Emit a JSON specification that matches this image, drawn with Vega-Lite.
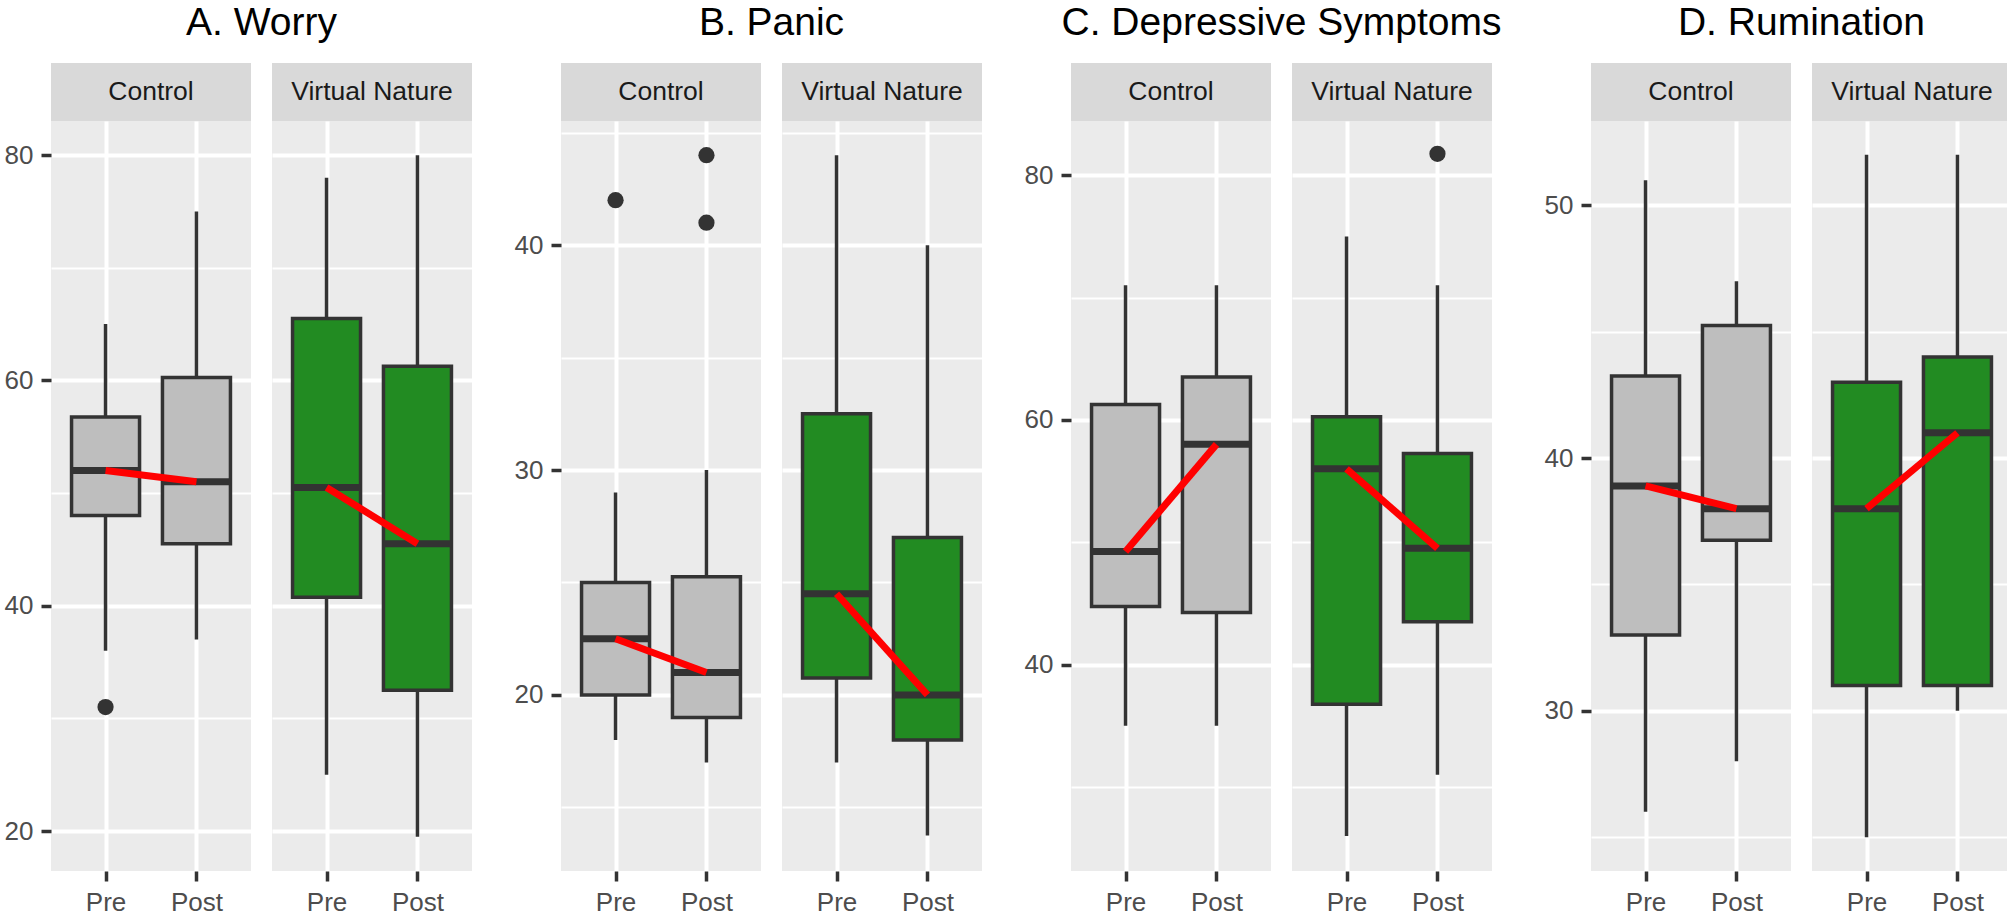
{
  "$schema": "https://vega.github.io/schema/vega-lite/v6.json",
  "background": "white",
  "padding": {"left": 3, "top": 4, "right": 0, "bottom": 0},
  "config": {
    "font": "Liberation Sans",
    "view": {"stroke": null, "fill": "#EBEBEB"},
    "concat": {"spacing": 0}
  },
  "datasets": {
    "boxes": [
      {"panel": "A", "group": "Control", "time": "Pre", "lo": 36, "q1": 48, "med": 52, "q3": 56.75, "hi": 65},
      {"panel": "A", "group": "Control", "time": "Post", "lo": 37, "q1": 45.5, "med": 51, "q3": 60.25, "hi": 75},
      {"panel": "A", "group": "Virtual Nature", "time": "Pre", "lo": 25, "q1": 40.75, "med": 50.5, "q3": 65.5, "hi": 78},
      {"panel": "A", "group": "Virtual Nature", "time": "Post", "lo": 19.5, "q1": 32.5, "med": 45.5, "q3": 61.25, "hi": 80},
      {"panel": "B", "group": "Control", "time": "Pre", "lo": 18, "q1": 20, "med": 22.5, "q3": 25, "hi": 29},
      {"panel": "B", "group": "Control", "time": "Post", "lo": 17, "q1": 19, "med": 21, "q3": 25.25, "hi": 30},
      {"panel": "B", "group": "Virtual Nature", "time": "Pre", "lo": 17, "q1": 20.75, "med": 24.5, "q3": 32.5, "hi": 44},
      {"panel": "B", "group": "Virtual Nature", "time": "Post", "lo": 13.75, "q1": 18, "med": 20, "q3": 27, "hi": 40},
      {"panel": "C", "group": "Control", "time": "Pre", "lo": 35, "q1": 44.75, "med": 49.25, "q3": 61.25, "hi": 71},
      {"panel": "C", "group": "Control", "time": "Post", "lo": 35, "q1": 44.25, "med": 58, "q3": 63.5, "hi": 71},
      {"panel": "C", "group": "Virtual Nature", "time": "Pre", "lo": 26, "q1": 36.75, "med": 56, "q3": 60.25, "hi": 75},
      {"panel": "C", "group": "Virtual Nature", "time": "Post", "lo": 31, "q1": 43.5, "med": 49.5, "q3": 57.25, "hi": 71},
      {"panel": "D", "group": "Control", "time": "Pre", "lo": 26, "q1": 33, "med": 38.9, "q3": 43.25, "hi": 51},
      {"panel": "D", "group": "Control", "time": "Post", "lo": 28, "q1": 36.75, "med": 38, "q3": 45.25, "hi": 47},
      {"panel": "D", "group": "Virtual Nature", "time": "Pre", "lo": 25, "q1": 31, "med": 38, "q3": 43, "hi": 52},
      {"panel": "D", "group": "Virtual Nature", "time": "Post", "lo": 30, "q1": 31, "med": 41, "q3": 44, "hi": 52}
    ],
    "outliers": [
      {"panel": "A", "group": "Control", "time": "Pre", "value": 31},
      {"panel": "B", "group": "Control", "time": "Pre", "value": 42},
      {"panel": "B", "group": "Control", "time": "Post", "value": 44},
      {"panel": "B", "group": "Control", "time": "Post", "value": 41},
      {"panel": "C", "group": "Virtual Nature", "time": "Post", "value": 81.75}
    ]
  },
  "spacing": 41,
  "hconcat": [
    {
      "title": {"text": "A. Worry", "anchor": "middle", "fontSize": 39, "fontWeight": "normal", "color": "#000000", "offset": 20, "dx": 24},
      "spacing": 21,
      "hconcat": [
        {"spacing": 0, "bounds": "flush", "vconcat": [
          {"width": 200, "height": 58, "view": {"fill": "#D9D9D9", "stroke": null}, "data": {"name": "boxes"},
           "transform": [{"filter": "datum.panel === 'A' && datum.group === 'Control' && datum.time === 'Pre'"}],
           "mark": {"type": "text", "fontSize": 26.5, "color": "#1A1A1A", "baseline": "middle"},
           "encoding": {"text": {"field": "group"}}},
          {"width": 200, "height": 750, "data": {"name": "boxes"},
           "transform": [{"filter": "datum.panel === 'A' && datum.group === 'Control'"}],
           "encoding": {"x": {"field": "time", "type": "nominal", "title": null, "scale": {"type": "point", "domain": ["Pre", "Post"], "padding": 0.6},
             "axis": {"labelAngle": 0, "domain": false, "tickSize": 10, "tickWidth": 3.5, "tickColor": "#333333", "labelFontSize": 26, "labelColor": "#4D4D4D", "labelPadding": 8, "grid": true, "gridColor": "#FFFFFF", "gridWidth": 4}}},
           "layer": [
             {"mark": {"type": "rule", "color": "#333333", "strokeWidth": 3.5},
              "encoding": {"y": {"field": "lo", "type": "quantitative", "title": null, "scale": {"domain": [16.45, 83.03], "nice": false, "zero": false},
                "axis": {"values": [20, 30, 40, 50, 60, 70, 80], "labelExpr": "datum.value % 20 === 0 ? datum.label : ''", "tickOpacity": {"condition": {"test": "datum.value % 20 === 0", "value": 1}, "value": 0}, "gridWidth": {"condition": {"test": "datum.value % 20 === 0", "value": 4}, "value": 2}, "gridColor": "#FFFFFF", "domain": false, "tickSize": 10, "tickWidth": 3.5, "tickColor": "#333333", "labelFontSize": 26, "labelColor": "#4D4D4D", "labelPadding": 8, "minExtent": 48, "maxExtent": 48}},
                "y2": {"field": "hi"}}},
             {"mark": {"type": "bar", "size": 68, "stroke": "#333333", "strokeWidth": 3.5},
              "encoding": {"y": {"field": "q1", "type": "quantitative", "title": null}, "y2": {"field": "q3"},
                "fill": {"field": "group", "type": "nominal", "scale": {"domain": ["Control", "Virtual Nature"], "range": ["#BEBEBE", "#228B22"]}, "legend": null}}},
             {"mark": {"type": "tick", "size": 68, "thickness": 7, "color": "#333333", "opacity": 1},
              "encoding": {"y": {"field": "med", "type": "quantitative", "title": null}}},
             {"mark": {"type": "line", "color": "#FF0000", "strokeWidth": 7},
              "encoding": {"y": {"field": "med", "type": "quantitative", "title": null}}},
             {"data": {"name": "outliers"}, "transform": [{"filter": "datum.panel === 'A' && datum.group === 'Control'"}],
              "mark": {"type": "point", "filled": true, "size": 263, "color": "#333333", "opacity": 1},
              "encoding": {"y": {"field": "value", "type": "quantitative", "title": null}}}
           ]}
        ]},
        {"spacing": 0, "bounds": "flush", "vconcat": [
          {"width": 200, "height": 58, "view": {"fill": "#D9D9D9", "stroke": null}, "data": {"name": "boxes"},
           "transform": [{"filter": "datum.panel === 'A' && datum.group === 'Virtual Nature' && datum.time === 'Pre'"}],
           "mark": {"type": "text", "fontSize": 26.5, "color": "#1A1A1A", "baseline": "middle"},
           "encoding": {"text": {"field": "group"}}},
          {"width": 200, "height": 750, "data": {"name": "boxes"},
           "transform": [{"filter": "datum.panel === 'A' && datum.group === 'Virtual Nature'"}],
           "encoding": {"x": {"field": "time", "type": "nominal", "title": null, "scale": {"type": "point", "domain": ["Pre", "Post"], "padding": 0.6},
             "axis": {"labelAngle": 0, "domain": false, "tickSize": 10, "tickWidth": 3.5, "tickColor": "#333333", "labelFontSize": 26, "labelColor": "#4D4D4D", "labelPadding": 8, "grid": true, "gridColor": "#FFFFFF", "gridWidth": 4}}},
           "layer": [
             {"mark": {"type": "rule", "color": "#333333", "strokeWidth": 3.5},
              "encoding": {"y": {"field": "lo", "type": "quantitative", "title": null, "scale": {"domain": [16.45, 83.03], "nice": false, "zero": false},
                "axis": {"values": [20, 30, 40, 50, 60, 70, 80], "labels": false, "ticks": false, "domain": false, "gridWidth": {"condition": {"test": "datum.value % 20 === 0", "value": 4}, "value": 2}, "gridColor": "#FFFFFF", "minExtent": 0, "maxExtent": 0}},
                "y2": {"field": "hi"}}},
             {"mark": {"type": "bar", "size": 68, "stroke": "#333333", "strokeWidth": 3.5},
              "encoding": {"y": {"field": "q1", "type": "quantitative", "title": null}, "y2": {"field": "q3"},
                "fill": {"field": "group", "type": "nominal", "scale": {"domain": ["Control", "Virtual Nature"], "range": ["#BEBEBE", "#228B22"]}, "legend": null}}},
             {"mark": {"type": "tick", "size": 68, "thickness": 7, "color": "#333333", "opacity": 1},
              "encoding": {"y": {"field": "med", "type": "quantitative", "title": null}}},
             {"mark": {"type": "line", "color": "#FF0000", "strokeWidth": 7},
              "encoding": {"y": {"field": "med", "type": "quantitative", "title": null}}}
           ]}
        ]}
      ]
    },
    {
      "title": {"text": "B. Panic", "anchor": "middle", "fontSize": 39, "fontWeight": "normal", "color": "#000000", "offset": 20, "dx": 24},
      "spacing": 21,
      "hconcat": [
        {"spacing": 0, "bounds": "flush", "vconcat": [
          {"width": 200, "height": 58, "view": {"fill": "#D9D9D9", "stroke": null}, "data": {"name": "boxes"},
           "transform": [{"filter": "datum.panel === 'B' && datum.group === 'Control' && datum.time === 'Pre'"}],
           "mark": {"type": "text", "fontSize": 26.5, "color": "#1A1A1A", "baseline": "middle"},
           "encoding": {"text": {"field": "group"}}},
          {"width": 200, "height": 750, "data": {"name": "boxes"},
           "transform": [{"filter": "datum.panel === 'B' && datum.group === 'Control'"}],
           "encoding": {"x": {"field": "time", "type": "nominal", "title": null, "scale": {"type": "point", "domain": ["Pre", "Post"], "padding": 0.6},
             "axis": {"labelAngle": 0, "domain": false, "tickSize": 10, "tickWidth": 3.5, "tickColor": "#333333", "labelFontSize": 26, "labelColor": "#4D4D4D", "labelPadding": 8, "grid": true, "gridColor": "#FFFFFF", "gridWidth": 4}}},
           "layer": [
             {"mark": {"type": "rule", "color": "#333333", "strokeWidth": 3.5},
              "encoding": {"y": {"field": "lo", "type": "quantitative", "title": null, "scale": {"domain": [12.17, 45.52], "nice": false, "zero": false},
                "axis": {"values": [15, 20, 25, 30, 35, 40, 45], "labelExpr": "datum.value % 10 === 0 ? datum.label : ''", "tickOpacity": {"condition": {"test": "datum.value % 10 === 0", "value": 1}, "value": 0}, "gridWidth": {"condition": {"test": "datum.value % 10 === 0", "value": 4}, "value": 2}, "gridColor": "#FFFFFF", "domain": false, "tickSize": 10, "tickWidth": 3.5, "tickColor": "#333333", "labelFontSize": 26, "labelColor": "#4D4D4D", "labelPadding": 8, "minExtent": 48, "maxExtent": 48}},
                "y2": {"field": "hi"}}},
             {"mark": {"type": "bar", "size": 68, "stroke": "#333333", "strokeWidth": 3.5},
              "encoding": {"y": {"field": "q1", "type": "quantitative", "title": null}, "y2": {"field": "q3"},
                "fill": {"field": "group", "type": "nominal", "scale": {"domain": ["Control", "Virtual Nature"], "range": ["#BEBEBE", "#228B22"]}, "legend": null}}},
             {"mark": {"type": "tick", "size": 68, "thickness": 7, "color": "#333333", "opacity": 1},
              "encoding": {"y": {"field": "med", "type": "quantitative", "title": null}}},
             {"mark": {"type": "line", "color": "#FF0000", "strokeWidth": 7},
              "encoding": {"y": {"field": "med", "type": "quantitative", "title": null}}},
             {"data": {"name": "outliers"}, "transform": [{"filter": "datum.panel === 'B' && datum.group === 'Control'"}],
              "mark": {"type": "point", "filled": true, "size": 263, "color": "#333333", "opacity": 1},
              "encoding": {"y": {"field": "value", "type": "quantitative", "title": null}}}
           ]}
        ]},
        {"spacing": 0, "bounds": "flush", "vconcat": [
          {"width": 200, "height": 58, "view": {"fill": "#D9D9D9", "stroke": null}, "data": {"name": "boxes"},
           "transform": [{"filter": "datum.panel === 'B' && datum.group === 'Virtual Nature' && datum.time === 'Pre'"}],
           "mark": {"type": "text", "fontSize": 26.5, "color": "#1A1A1A", "baseline": "middle"},
           "encoding": {"text": {"field": "group"}}},
          {"width": 200, "height": 750, "data": {"name": "boxes"},
           "transform": [{"filter": "datum.panel === 'B' && datum.group === 'Virtual Nature'"}],
           "encoding": {"x": {"field": "time", "type": "nominal", "title": null, "scale": {"type": "point", "domain": ["Pre", "Post"], "padding": 0.6},
             "axis": {"labelAngle": 0, "domain": false, "tickSize": 10, "tickWidth": 3.5, "tickColor": "#333333", "labelFontSize": 26, "labelColor": "#4D4D4D", "labelPadding": 8, "grid": true, "gridColor": "#FFFFFF", "gridWidth": 4}}},
           "layer": [
             {"mark": {"type": "rule", "color": "#333333", "strokeWidth": 3.5},
              "encoding": {"y": {"field": "lo", "type": "quantitative", "title": null, "scale": {"domain": [12.17, 45.52], "nice": false, "zero": false},
                "axis": {"values": [15, 20, 25, 30, 35, 40, 45], "labels": false, "ticks": false, "domain": false, "gridWidth": {"condition": {"test": "datum.value % 10 === 0", "value": 4}, "value": 2}, "gridColor": "#FFFFFF", "minExtent": 0, "maxExtent": 0}},
                "y2": {"field": "hi"}}},
             {"mark": {"type": "bar", "size": 68, "stroke": "#333333", "strokeWidth": 3.5},
              "encoding": {"y": {"field": "q1", "type": "quantitative", "title": null}, "y2": {"field": "q3"},
                "fill": {"field": "group", "type": "nominal", "scale": {"domain": ["Control", "Virtual Nature"], "range": ["#BEBEBE", "#228B22"]}, "legend": null}}},
             {"mark": {"type": "tick", "size": 68, "thickness": 7, "color": "#333333", "opacity": 1},
              "encoding": {"y": {"field": "med", "type": "quantitative", "title": null}}},
             {"mark": {"type": "line", "color": "#FF0000", "strokeWidth": 7},
              "encoding": {"y": {"field": "med", "type": "quantitative", "title": null}}}
           ]}
        ]}
      ]
    },
    {
      "title": {"text": "C. Depressive Symptoms", "anchor": "middle", "fontSize": 39, "fontWeight": "normal", "color": "#000000", "offset": 20, "dx": 24},
      "spacing": 21,
      "hconcat": [
        {"spacing": 0, "bounds": "flush", "vconcat": [
          {"width": 200, "height": 58, "view": {"fill": "#D9D9D9", "stroke": null}, "data": {"name": "boxes"},
           "transform": [{"filter": "datum.panel === 'C' && datum.group === 'Control' && datum.time === 'Pre'"}],
           "mark": {"type": "text", "fontSize": 26.5, "color": "#1A1A1A", "baseline": "middle"},
           "encoding": {"text": {"field": "group"}}},
          {"width": 200, "height": 750, "data": {"name": "boxes"},
           "transform": [{"filter": "datum.panel === 'C' && datum.group === 'Control'"}],
           "encoding": {"x": {"field": "time", "type": "nominal", "title": null, "scale": {"type": "point", "domain": ["Pre", "Post"], "padding": 0.6},
             "axis": {"labelAngle": 0, "domain": false, "tickSize": 10, "tickWidth": 3.5, "tickColor": "#333333", "labelFontSize": 26, "labelColor": "#4D4D4D", "labelPadding": 8, "grid": true, "gridColor": "#FFFFFF", "gridWidth": 4}}},
           "layer": [
             {"mark": {"type": "rule", "color": "#333333", "strokeWidth": 3.5},
              "encoding": {"y": {"field": "lo", "type": "quantitative", "title": null, "scale": {"domain": [23.13, 84.43], "nice": false, "zero": false},
                "axis": {"values": [30, 40, 50, 60, 70, 80], "labelExpr": "datum.value % 20 === 0 ? datum.label : ''", "tickOpacity": {"condition": {"test": "datum.value % 20 === 0", "value": 1}, "value": 0}, "gridWidth": {"condition": {"test": "datum.value % 20 === 0", "value": 4}, "value": 2}, "gridColor": "#FFFFFF", "domain": false, "tickSize": 10, "tickWidth": 3.5, "tickColor": "#333333", "labelFontSize": 26, "labelColor": "#4D4D4D", "labelPadding": 8, "minExtent": 48, "maxExtent": 48}},
                "y2": {"field": "hi"}}},
             {"mark": {"type": "bar", "size": 68, "stroke": "#333333", "strokeWidth": 3.5},
              "encoding": {"y": {"field": "q1", "type": "quantitative", "title": null}, "y2": {"field": "q3"},
                "fill": {"field": "group", "type": "nominal", "scale": {"domain": ["Control", "Virtual Nature"], "range": ["#BEBEBE", "#228B22"]}, "legend": null}}},
             {"mark": {"type": "tick", "size": 68, "thickness": 7, "color": "#333333", "opacity": 1},
              "encoding": {"y": {"field": "med", "type": "quantitative", "title": null}}},
             {"mark": {"type": "line", "color": "#FF0000", "strokeWidth": 7},
              "encoding": {"y": {"field": "med", "type": "quantitative", "title": null}}}
           ]}
        ]},
        {"spacing": 0, "bounds": "flush", "vconcat": [
          {"width": 200, "height": 58, "view": {"fill": "#D9D9D9", "stroke": null}, "data": {"name": "boxes"},
           "transform": [{"filter": "datum.panel === 'C' && datum.group === 'Virtual Nature' && datum.time === 'Pre'"}],
           "mark": {"type": "text", "fontSize": 26.5, "color": "#1A1A1A", "baseline": "middle"},
           "encoding": {"text": {"field": "group"}}},
          {"width": 200, "height": 750, "data": {"name": "boxes"},
           "transform": [{"filter": "datum.panel === 'C' && datum.group === 'Virtual Nature'"}],
           "encoding": {"x": {"field": "time", "type": "nominal", "title": null, "scale": {"type": "point", "domain": ["Pre", "Post"], "padding": 0.6},
             "axis": {"labelAngle": 0, "domain": false, "tickSize": 10, "tickWidth": 3.5, "tickColor": "#333333", "labelFontSize": 26, "labelColor": "#4D4D4D", "labelPadding": 8, "grid": true, "gridColor": "#FFFFFF", "gridWidth": 4}}},
           "layer": [
             {"mark": {"type": "rule", "color": "#333333", "strokeWidth": 3.5},
              "encoding": {"y": {"field": "lo", "type": "quantitative", "title": null, "scale": {"domain": [23.13, 84.43], "nice": false, "zero": false},
                "axis": {"values": [30, 40, 50, 60, 70, 80], "labels": false, "ticks": false, "domain": false, "gridWidth": {"condition": {"test": "datum.value % 20 === 0", "value": 4}, "value": 2}, "gridColor": "#FFFFFF", "minExtent": 0, "maxExtent": 0}},
                "y2": {"field": "hi"}}},
             {"mark": {"type": "bar", "size": 68, "stroke": "#333333", "strokeWidth": 3.5},
              "encoding": {"y": {"field": "q1", "type": "quantitative", "title": null}, "y2": {"field": "q3"},
                "fill": {"field": "group", "type": "nominal", "scale": {"domain": ["Control", "Virtual Nature"], "range": ["#BEBEBE", "#228B22"]}, "legend": null}}},
             {"mark": {"type": "tick", "size": 68, "thickness": 7, "color": "#333333", "opacity": 1},
              "encoding": {"y": {"field": "med", "type": "quantitative", "title": null}}},
             {"mark": {"type": "line", "color": "#FF0000", "strokeWidth": 7},
              "encoding": {"y": {"field": "med", "type": "quantitative", "title": null}}},
             {"data": {"name": "outliers"}, "transform": [{"filter": "datum.panel === 'C' && datum.group === 'Virtual Nature'"}],
              "mark": {"type": "point", "filled": true, "size": 263, "color": "#333333", "opacity": 1},
              "encoding": {"y": {"field": "value", "type": "quantitative", "title": null}}}
           ]}
        ]}
      ]
    },
    {
      "title": {"text": "D. Rumination", "anchor": "middle", "fontSize": 39, "fontWeight": "normal", "color": "#000000", "offset": 20, "dx": 24},
      "spacing": 21,
      "hconcat": [
        {"spacing": 0, "bounds": "flush", "vconcat": [
          {"width": 200, "height": 58, "view": {"fill": "#D9D9D9", "stroke": null}, "data": {"name": "boxes"},
           "transform": [{"filter": "datum.panel === 'D' && datum.group === 'Control' && datum.time === 'Pre'"}],
           "mark": {"type": "text", "fontSize": 26.5, "color": "#1A1A1A", "baseline": "middle"},
           "encoding": {"text": {"field": "group"}}},
          {"width": 200, "height": 750, "data": {"name": "boxes"},
           "transform": [{"filter": "datum.panel === 'D' && datum.group === 'Control'"}],
           "encoding": {"x": {"field": "time", "type": "nominal", "title": null, "scale": {"type": "point", "domain": ["Pre", "Post"], "padding": 0.6},
             "axis": {"labelAngle": 0, "domain": false, "tickSize": 10, "tickWidth": 3.5, "tickColor": "#333333", "labelFontSize": 26, "labelColor": "#4D4D4D", "labelPadding": 8, "grid": true, "gridColor": "#FFFFFF", "gridWidth": 4}}},
           "layer": [
             {"mark": {"type": "rule", "color": "#333333", "strokeWidth": 3.5},
              "encoding": {"y": {"field": "lo", "type": "quantitative", "title": null, "scale": {"domain": [23.66, 53.34], "nice": false, "zero": false},
                "axis": {"values": [25, 30, 35, 40, 45, 50], "labelExpr": "datum.value % 10 === 0 ? datum.label : ''", "tickOpacity": {"condition": {"test": "datum.value % 10 === 0", "value": 1}, "value": 0}, "gridWidth": {"condition": {"test": "datum.value % 10 === 0", "value": 4}, "value": 2}, "gridColor": "#FFFFFF", "domain": false, "tickSize": 10, "tickWidth": 3.5, "tickColor": "#333333", "labelFontSize": 26, "labelColor": "#4D4D4D", "labelPadding": 8, "minExtent": 48, "maxExtent": 48}},
                "y2": {"field": "hi"}}},
             {"mark": {"type": "bar", "size": 68, "stroke": "#333333", "strokeWidth": 3.5},
              "encoding": {"y": {"field": "q1", "type": "quantitative", "title": null}, "y2": {"field": "q3"},
                "fill": {"field": "group", "type": "nominal", "scale": {"domain": ["Control", "Virtual Nature"], "range": ["#BEBEBE", "#228B22"]}, "legend": null}}},
             {"mark": {"type": "tick", "size": 68, "thickness": 7, "color": "#333333", "opacity": 1},
              "encoding": {"y": {"field": "med", "type": "quantitative", "title": null}}},
             {"mark": {"type": "line", "color": "#FF0000", "strokeWidth": 7},
              "encoding": {"y": {"field": "med", "type": "quantitative", "title": null}}}
           ]}
        ]},
        {"spacing": 0, "bounds": "flush", "vconcat": [
          {"width": 200, "height": 58, "view": {"fill": "#D9D9D9", "stroke": null}, "data": {"name": "boxes"},
           "transform": [{"filter": "datum.panel === 'D' && datum.group === 'Virtual Nature' && datum.time === 'Pre'"}],
           "mark": {"type": "text", "fontSize": 26.5, "color": "#1A1A1A", "baseline": "middle"},
           "encoding": {"text": {"field": "group"}}},
          {"width": 200, "height": 750, "data": {"name": "boxes"},
           "transform": [{"filter": "datum.panel === 'D' && datum.group === 'Virtual Nature'"}],
           "encoding": {"x": {"field": "time", "type": "nominal", "title": null, "scale": {"type": "point", "domain": ["Pre", "Post"], "padding": 0.6},
             "axis": {"labelAngle": 0, "domain": false, "tickSize": 10, "tickWidth": 3.5, "tickColor": "#333333", "labelFontSize": 26, "labelColor": "#4D4D4D", "labelPadding": 8, "grid": true, "gridColor": "#FFFFFF", "gridWidth": 4}}},
           "layer": [
             {"mark": {"type": "rule", "color": "#333333", "strokeWidth": 3.5},
              "encoding": {"y": {"field": "lo", "type": "quantitative", "title": null, "scale": {"domain": [23.66, 53.34], "nice": false, "zero": false},
                "axis": {"values": [25, 30, 35, 40, 45, 50], "labels": false, "ticks": false, "domain": false, "gridWidth": {"condition": {"test": "datum.value % 10 === 0", "value": 4}, "value": 2}, "gridColor": "#FFFFFF", "minExtent": 0, "maxExtent": 0}},
                "y2": {"field": "hi"}}},
             {"mark": {"type": "bar", "size": 68, "stroke": "#333333", "strokeWidth": 3.5},
              "encoding": {"y": {"field": "q1", "type": "quantitative", "title": null}, "y2": {"field": "q3"},
                "fill": {"field": "group", "type": "nominal", "scale": {"domain": ["Control", "Virtual Nature"], "range": ["#BEBEBE", "#228B22"]}, "legend": null}}},
             {"mark": {"type": "tick", "size": 68, "thickness": 7, "color": "#333333", "opacity": 1},
              "encoding": {"y": {"field": "med", "type": "quantitative", "title": null}}},
             {"mark": {"type": "line", "color": "#FF0000", "strokeWidth": 7},
              "encoding": {"y": {"field": "med", "type": "quantitative", "title": null}}}
           ]}
        ]}
      ]
    }
  ]
}
